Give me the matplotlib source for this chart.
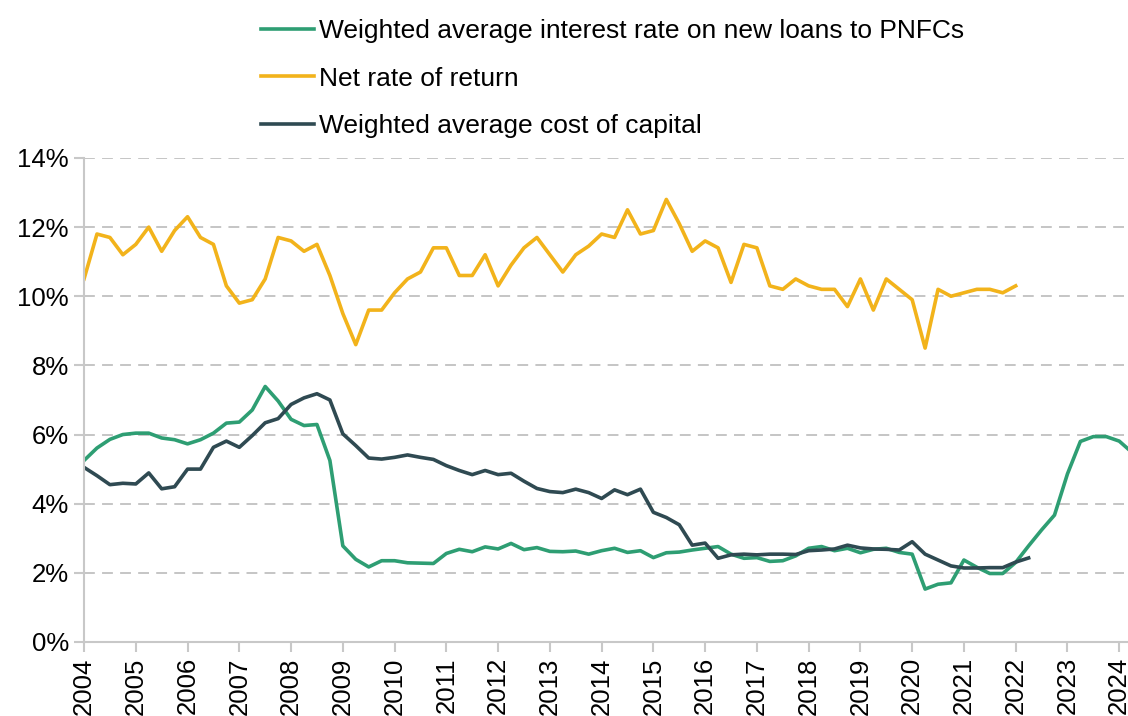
import numpy as np
import matplotlib
matplotlib.use("Agg")
import matplotlib.pyplot as plt
from matplotlib.ticker import FuncFormatter

plt.rcParams['font.family'] = ['Liberation Sans', 'DejaVu Sans']

# quarterly series, starting 2004 Q1
loan_rate = [5.25, 5.61, 5.86, 6.00, 6.04, 6.04, 5.90, 5.85, 5.73, 5.85,
             6.04, 6.33, 6.36, 6.71, 7.39, 6.97, 6.44, 6.26, 6.29, 5.25,
             2.78, 2.39, 2.17, 2.35, 2.35, 2.29, 2.28, 2.27, 2.56, 2.68,
             2.61, 2.75, 2.69, 2.85, 2.67, 2.73, 2.62, 2.61, 2.63, 2.54,
             2.64, 2.71, 2.59, 2.64, 2.44, 2.58, 2.60, 2.66, 2.71, 2.76,
             2.54, 2.42, 2.44, 2.33, 2.35, 2.49, 2.71, 2.76, 2.64, 2.71,
             2.58, 2.68, 2.71, 2.59, 2.54, 1.53, 1.67, 1.71, 2.37, 2.16,
             1.98, 1.98, 2.30, 2.78, 3.24, 3.67, 4.86, 5.80, 5.94, 5.94,
             5.81, 5.48]

net_return = [10.5, 11.8, 11.7, 11.2, 11.5, 12.0, 11.3, 11.9, 12.3, 11.7,
              11.5, 10.3, 9.8, 9.9, 10.5, 11.7, 11.6, 11.3, 11.5, 10.6,
              9.5, 8.6, 9.6, 9.6, 10.1, 10.5, 10.7, 11.4, 11.4, 10.6,
              10.6, 11.2, 10.3, 10.9, 11.4, 11.7, 11.2, 10.7, 11.2, 11.45,
              11.8, 11.7, 12.5, 11.8, 11.9, 12.8, 12.1, 11.3, 11.6, 11.4,
              10.4, 11.5, 11.4, 10.3, 10.2, 10.5, 10.3, 10.2, 10.2, 9.7,
              10.5, 9.6, 10.5, 10.2, 9.9, 8.5, 10.2, 10.0, 10.1, 10.2,
              10.2, 10.1, 10.3]

wacc = [5.05, 4.81, 4.55, 4.59, 4.57, 4.89, 4.43, 4.49, 5.00, 5.00,
        5.63, 5.81, 5.63, 5.97, 6.34, 6.46, 6.87, 7.06, 7.18, 7.00,
        6.02, 5.68, 5.32, 5.29, 5.34, 5.41, 5.34, 5.28, 5.10, 4.96,
        4.84, 4.96, 4.84, 4.88, 4.65, 4.44, 4.35, 4.32, 4.42, 4.32,
        4.15, 4.40, 4.26, 4.42, 3.75, 3.60, 3.39, 2.80, 2.86, 2.42,
        2.52, 2.54, 2.52, 2.54, 2.54, 2.53, 2.64, 2.66, 2.69, 2.80,
        2.72, 2.69, 2.68, 2.66, 2.90, 2.54, 2.37, 2.20, 2.14, 2.14,
        2.15, 2.15, 2.31, 2.43]

labels = ['Weighted average interest rate on new loans to PNFCs',
          'Net rate of return',
          'Weighted average cost of capital']
colors = ['#2e9e73', '#f2b31b', '#2f4a52']
years = list(range(2004, 2025))


def quarters(series):
    return 2004 + 0.25 * np.arange(len(series))


fig = plt.figure(figsize=(11.28, 7.16), dpi=100)
ax = fig.add_axes([0.0745, 0.1034, 0.9255, 0.676])

for series, label, c in zip([loan_rate, net_return, wacc], labels, colors):
    ax.plot(quarters(series), series, color=c, linewidth=2.6, label=label)

ax.set_xlim(2004, 2024.17)
ax.set_ylim(0, 14)
ax.set_yticks(range(0, 15, 2))
ax.yaxis.set_major_formatter(FuncFormatter(lambda v, p: f"{v:.0f}%"))
ax.set_xticks(years)
ax.set_xticklabels([str(y) for y in years], rotation=90)

ax.grid(axis='y', color='#c0c0c0', linestyle=(0, (6, 4)), linewidth=1.3)
ax.set_axisbelow(True)
for s in ['top', 'right']:
    ax.spines[s].set_visible(False)
for s in ['left', 'bottom']:
    ax.spines[s].set_color('#c8c8c8')
    ax.spines[s].set_linewidth(1.5)
ax.tick_params(axis='both', colors='#c8c8c8', labelcolor='black',
               labelsize=18.5, length=7, width=1.5, pad=4)

fig.legend(loc='upper left', bbox_to_anchor=(0.2107, 1.0067), frameon=False,
           fontsize=19, handlelength=2.0, handletextpad=0.2,
           labelspacing=0.9)

fig.savefig('out.png', dpi=100)
